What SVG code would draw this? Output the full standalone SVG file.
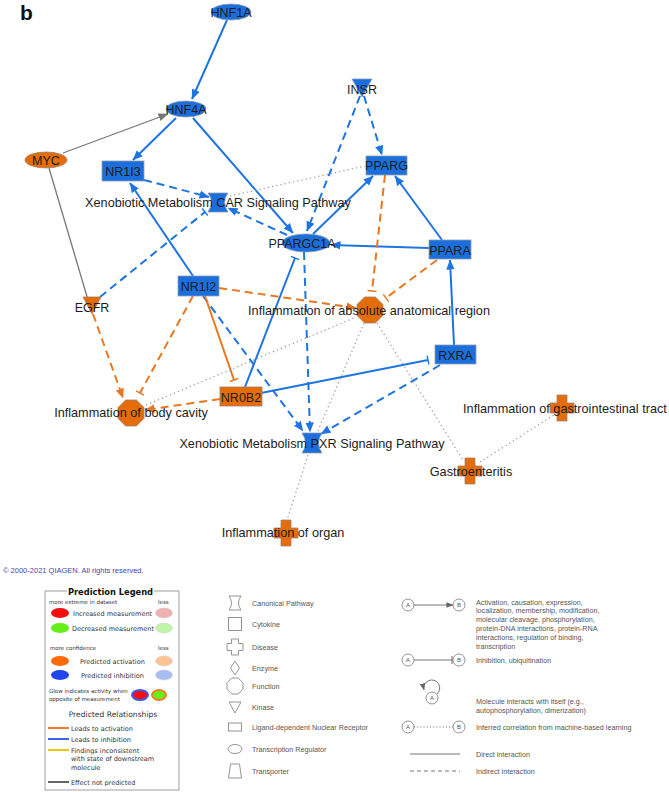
<svg xmlns="http://www.w3.org/2000/svg" width="669" height="792" viewBox="0 0 669 792">
<style>
text{font-family:"Liberation Sans",Arial,sans-serif}
.nb{fill:#1b6fdc;stroke:#8d9bb0;stroke-width:0.8}
.no{fill:#e46c0a;stroke:#a08070;stroke-width:0.8}
.nl{font-size:12.5px;fill:#1c1c1c;text-anchor:middle}
.bl{font-size:12.7px;fill:#1c1c1c;text-anchor:middle}
.eb{stroke:#1e74e0;stroke-width:2;fill:none}
.eo{stroke:#e8771e;stroke-width:2;fill:none}
.eg{stroke:#777;stroke-width:1.3;fill:none}
.d{stroke-dasharray:8,5}
.dot{stroke:#9a9a9a;stroke-width:1.2;stroke-dasharray:1.3,3;fill:none}
.pl{font-family:"DejaVu Sans",Verdana,sans-serif;font-size:6.5px;fill:#333}
.ps{font-family:"DejaVu Sans",Verdana,sans-serif;font-size:5.5px;fill:#333}
.lg{font-size:7.2px;fill:#555}
.li{fill:none;stroke:#888;stroke-width:0.9}
.lc{fill:#fff;stroke:#777;stroke-width:0.8}
.la{font-size:6px;fill:#555;text-anchor:middle}
</style>
<defs>
<marker id="ab" markerUnits="userSpaceOnUse" markerWidth="10" markerHeight="10" viewBox="0 0 10 10" refX="9.5" refY="5" orient="auto"><path d="M0,0.8 L10,5 L0,9.2 Z" fill="#1e74e0"/></marker>
<marker id="ao" markerUnits="userSpaceOnUse" markerWidth="10" markerHeight="10" viewBox="0 0 10 10" refX="9.5" refY="5" orient="auto"><path d="M0,0.8 L10,5 L0,9.2 Z" fill="#e8771e"/></marker>
<marker id="ag" markerUnits="userSpaceOnUse" markerWidth="10" markerHeight="10" viewBox="0 0 10 10" refX="9.5" refY="5" orient="auto"><path d="M0,1 L10,5 L0,9 Z" fill="#777"/></marker>
<marker id="al" markerUnits="userSpaceOnUse" markerWidth="7" markerHeight="7" viewBox="0 0 10 10" refX="9.5" refY="5" orient="auto"><path d="M0,1 L10,5 L0,9 Z" fill="#666"/></marker>
<marker id="ib" markerUnits="userSpaceOnUse" markerWidth="4" markerHeight="10" viewBox="0 0 4 10" refX="2" refY="5" orient="auto"><line x1="2" y1="0.5" x2="2" y2="9.5" stroke="#1e74e0" stroke-width="1.4"/></marker>
<marker id="io" markerUnits="userSpaceOnUse" markerWidth="4" markerHeight="10" viewBox="0 0 4 10" refX="2" refY="5" orient="auto"><line x1="2" y1="0.5" x2="2" y2="9.5" stroke="#e8771e" stroke-width="1.4"/></marker>
<marker id="il" markerUnits="userSpaceOnUse" markerWidth="4" markerHeight="10" viewBox="0 0 4 10" refX="2" refY="5" orient="auto"><line x1="2" y1="1" x2="2" y2="9" stroke="#666" stroke-width="1"/></marker>
<polygon id="oct" points="-5.4,-13 5.4,-13 13,-5.4 13,5.4 5.4,13 -5.4,13 -13,5.4 -13,-5.4"/>
<polygon id="cross" points="-5,-13 5,-13 5,-5 12,-5 12,5 5,5 5,13 -5,13 -5,5 -12,5 -12,-5 -5,-5"/>
</defs>
<rect width="669" height="792" fill="#fff"/>
<text x="20" y="20" style="font-size:21px;font-weight:bold;fill:#111">b</text>

<g id="connectors">
<line class="eb" x1="227" y1="20" x2="192" y2="99" marker-end="url(#ab)"/>
<line class="eg" x1="63" y1="153" x2="168" y2="114" marker-end="url(#ag)"/>
<line class="eg" x1="49" y1="168" x2="88" y2="300"/>
<line class="eb" x1="176" y1="118" x2="133" y2="160" marker-end="url(#ab)"/>
<line class="eb" x1="193" y1="118" x2="293" y2="233" marker-end="url(#ab)"/>
<line class="eb d" x1="144" y1="180" x2="209" y2="197" marker-end="url(#ab)"/>
<line class="eb d" x1="287" y1="235" x2="228" y2="208" marker-end="url(#ab)"/>
<line class="eb d" x1="100" y1="297" x2="205" y2="212" marker-end="url(#ib)"/>
<line class="eb" x1="193" y1="276" x2="130" y2="183" marker-end="url(#ab)"/>
<line class="eb d" x1="360" y1="96" x2="307" y2="231" marker-end="url(#ab)"/>
<line class="eb d" x1="364" y1="96" x2="382" y2="155" marker-end="url(#ab)"/>
<line class="eb" x1="313" y1="234" x2="373" y2="176" marker-end="url(#ab)"/>
<line class="eb" x1="442" y1="240" x2="395" y2="176" marker-end="url(#ab)"/>
<line class="eb" x1="429" y1="248" x2="331" y2="245" marker-end="url(#ab)"/>
<line class="eo d" x1="385" y1="175" x2="372" y2="291" marker-end="url(#io)"/>
<line class="eo d" x1="437" y1="260" x2="386" y2="298" marker-end="url(#io)"/>
<line class="eo d" x1="219" y1="288" x2="356" y2="308" marker-end="url(#ao)"/>
<line class="eb" x1="454" y1="345" x2="450" y2="260" marker-end="url(#ab)"/>
<line class="eb" x1="245" y1="387" x2="295" y2="258" marker-end="url(#ib)"/>
<line class="eb d" x1="304" y1="252" x2="310" y2="432" marker-end="url(#ab)"/>
<line class="eb d" x1="203" y1="296" x2="303" y2="431" marker-end="url(#ab)"/>
<line class="eb d" x1="440" y1="365" x2="321" y2="434" marker-end="url(#ab)"/>
<line class="eb" x1="261" y1="393" x2="428" y2="360" marker-end="url(#ib)"/>
<line class="eo" x1="205" y1="296" x2="234" y2="380" marker-end="url(#io)"/>
<line class="eo d" x1="193" y1="296" x2="140" y2="393" marker-end="url(#io)"/>
<line class="eo d" x1="93" y1="314" x2="123" y2="398" marker-end="url(#ao)"/>
<line class="eo d" x1="220" y1="399" x2="145" y2="410" marker-end="url(#ao)"/>
<line class="dot" x1="230" y1="196" x2="365" y2="166"/>
<line class="dot" x1="146" y1="405" x2="354" y2="318"/>
<line class="dot" x1="364" y1="323" x2="317" y2="433"/>
<line class="dot" x1="377" y1="323" x2="463" y2="460"/>
<line class="dot" x1="480" y1="462" x2="554" y2="415"/>
<line class="dot" x1="308" y1="455" x2="287" y2="520"/>
</g>

<g id="HNF1A"><ellipse class="nb" cx="231" cy="12" rx="20" ry="8"/><text class="nl" x="231" y="16.5">HNF1A</text></g>
<g id="HNF4A"><ellipse class="nb" cx="186" cy="109" rx="20" ry="8"/><text class="nl" x="186" y="113.5">HNF4A</text></g>
<g id="MYC"><ellipse class="no" cx="46" cy="160" rx="21" ry="8"/><text class="nl" x="46" y="164.5">MYC</text></g>
<g id="NR1I3"><rect class="nb" x="102" y="161" width="42" height="20"/><text class="nl" x="123" y="175.5">NR1I3</text></g>
<g id="INSR"><polygon class="nb" points="352,79 372,79 362,97"/><text class="nl" x="362" y="94">INSR</text></g>
<g id="PPARG"><rect class="nb" x="366" y="156" width="41" height="19"/><text class="nl" x="386.5" y="170">PPARG</text></g>
<g id="CAR"><path class="nb" d="M208,193 L228,193 Q221,202 228,212 L208,212 Q215,202 208,193 Z"/><text class="bl" x="218" y="207">Xenobiotic Metabolism CAR Signaling Pathway</text></g>
<g id="PPARGC1A"><ellipse class="nb" cx="306" cy="243" rx="24" ry="9"/><text class="nl" x="302" y="248">PPARGC1A</text></g>
<g id="PPARA"><rect class="nb" x="429" y="240" width="42" height="19"/><text class="nl" x="450" y="254.5">PPARA</text></g>
<g id="NR1I2"><rect class="nb" x="178" y="276" width="41" height="20"/><text class="nl" x="198.5" y="290.5">NR1I2</text></g>
<g id="EGFR"><polygon class="no" points="83,297 101,297 92,314"/><text class="nl" x="92" y="312">EGFR</text></g>
<g id="InflAbsolute"><use href="#oct" class="no" transform="translate(370,310)"/><text class="bl" x="369" y="315">Inflammation of absolute anatomical region</text></g>
<g id="RXRA"><rect class="nb" x="435" y="345" width="41" height="19"/><text class="nl" x="455.5" y="359.5">RXRA</text></g>
<g id="NR0B2"><rect class="no" x="220" y="387" width="42" height="19"/><text class="nl" x="241" y="401.5">NR0B2</text></g>
<g id="InflBodyCavity"><use href="#oct" class="no" transform="translate(131,413)"/><text class="bl" x="131" y="417">Inflammation of body cavity</text></g>
<g id="PXR"><path class="nb" d="M302,433 L322,433 Q315,443 322,453 L302,453 Q309,443 302,433 Z"/><text class="bl" x="312" y="448">Xenobiotic Metabolism PXR Signaling Pathway</text></g>
<g id="InflGI"><use href="#cross" class="no" transform="translate(562,408)"/><text class="bl" x="565" y="413">Inflammation of gastrointestinal tract</text></g>
<g id="Gastroenteritis"><use href="#cross" class="no" transform="translate(470,471)"/><text class="bl" x="471" y="476">Gastroenteritis</text></g>
<g id="InflOrgan"><use href="#cross" class="no" transform="translate(286,533)"/><text class="bl" x="283" y="537">Inflammation of organ</text></g>

<text x="3" y="573" style="font-size:7.5px;fill:#4646a8">© 2000-2021 QIAGEN. All rights reserved.</text>

<g id="prediction-legend">
<rect x="45" y="591" width="134" height="199" fill="#fff" stroke="#888" stroke-width="0.8"/>
<rect x="67" y="586" width="87" height="10" fill="#fff"/>
<text x="110.5" y="594.5" style="font-family:'DejaVu Sans',Verdana,sans-serif;font-size:8.3px;font-weight:bold;fill:#111;text-anchor:middle">Prediction Legend</text>
<text class="ps" x="49" y="604">more extreme in dataset</text>
<text class="ps" x="158" y="604">less</text>
<ellipse cx="60" cy="613" rx="9" ry="5" fill="#f01010"/>
<text class="pl" x="73" y="615.5">Increased measurement</text>
<ellipse cx="164" cy="613" rx="8.5" ry="5" fill="#f0b0b0" stroke="#ccc" stroke-width="0.5"/>
<ellipse cx="60" cy="628" rx="9" ry="5" fill="#66ee1a"/>
<text class="pl" x="72" y="630.5">Decreased measurement</text>
<ellipse cx="164" cy="628" rx="8.5" ry="5" fill="#c0f5a8" stroke="#ccc" stroke-width="0.5"/>
<text class="ps" x="50" y="650">more confidence</text>
<text class="ps" x="158" y="650">less</text>
<ellipse cx="60" cy="661" rx="9" ry="5" fill="#ff6a0a"/>
<text class="pl" x="80" y="663.5">Predicted activation</text>
<ellipse cx="164" cy="661" rx="8.5" ry="5" fill="#ffc494" stroke="#ccc" stroke-width="0.5"/>
<ellipse cx="60" cy="675" rx="9" ry="5" fill="#2244ee"/>
<text class="pl" x="81" y="677.5">Predicted inhibition</text>
<ellipse cx="164" cy="675" rx="8.5" ry="5" fill="#a8bef2" stroke="#ccc" stroke-width="0.5"/>
<text class="ps" x="49" y="693">Glow indicates activity when</text>
<text class="ps" x="49" y="700.5">opposite of measurement</text>
<ellipse cx="140" cy="695" rx="8" ry="5" fill="#f01010" stroke="#3a5cf0" stroke-width="2"/>
<ellipse cx="159" cy="695" rx="7" ry="5" fill="#66ee1a" stroke="#ff7a20" stroke-width="2"/>
<text x="113" y="717" style="font-family:'DejaVu Sans',Verdana,sans-serif;font-size:7.6px;fill:#333;text-anchor:middle">Predicted Relationships</text>
<line x1="48" y1="728" x2="69" y2="728" stroke="#f07020" stroke-width="1.8"/>
<text class="pl" x="71" y="730.5">Leads to activation</text>
<line x1="48" y1="739" x2="69" y2="739" stroke="#2a4ff0" stroke-width="1.8"/>
<text class="pl" x="71" y="741.5">Leads to inhibition</text>
<line x1="48" y1="750" x2="69" y2="750" stroke="#e8c000" stroke-width="1.8"/>
<text class="pl" x="71" y="752.5">Findings inconsistent</text>
<text class="pl" x="71" y="761">with state of downstream</text>
<text class="pl" x="71" y="769.5">molecule</text>
<line x1="48" y1="782" x2="69" y2="782" stroke="#555" stroke-width="1.8"/>
<text class="pl" x="71" y="784.5">Effect not predicted</text>
</g>

<g id="shape-legend">
<path class="li" d="M229,596 L241,596 Q236,603 241,610 L229,610 Q234,603 229,596 Z"/>
<text class="lg" x="252" y="605.5">Canonical Pathway</text>
<rect class="li" x="228.5" y="617.5" width="13" height="13"/>
<text class="lg" x="252" y="626.5">Cytokine</text>
<polygon class="li" points="231.5,639 238.5,639 238.5,643.5 243,643.5 243,650.5 238.5,650.5 238.5,655 231.5,655 231.5,650.5 227,650.5 227,643.5 231.5,643.5"/>
<text class="lg" x="252" y="649.5">Disease</text>
<polygon class="li" points="235,661 239.5,668 235,675 230.5,668"/>
<text class="lg" x="252" y="670.5">Enzyme</text>
<polygon class="li" points="231.8,678 238.2,678 243,682.8 243,689.2 238.2,694 231.8,694 227,689.2 227,682.8"/>
<text class="lg" x="252" y="688.5">Function</text>
<polygon class="li" points="229,702 241,702 235,713"/>
<text class="lg" x="252" y="709.5">Kinase</text>
<rect class="li" x="228.5" y="723" width="13" height="8"/>
<text class="lg" x="252" y="729.5">Ligand-dependent Nuclear Receptor</text>
<ellipse class="li" cx="235" cy="749" rx="7" ry="4.5"/>
<text class="lg" x="252" y="751.5">Transcription Regulator</text>
<polygon class="li" points="230.5,764 239.5,764 241.5,778 228.5,778"/>
<text class="lg" x="252" y="773.5">Transporter</text>
</g>

<g id="relationship-legend">
<line x1="414" y1="605" x2="453" y2="605" stroke="#666" stroke-width="0.9" marker-end="url(#al)"/>
<circle class="lc" cx="408" cy="605" r="6"/><text class="la" x="408" y="607.2">A</text>
<circle class="lc" cx="459" cy="605" r="6"/><text class="la" x="459" y="607.2">B</text>
<text class="lg" x="476" y="604.5">Activation, causation, expression,</text>
<text class="lg" x="476" y="613.3">localization, membership, modification,</text>
<text class="lg" x="476" y="622.1">molecular cleavage, phosphorylation,</text>
<text class="lg" x="476" y="630.9">protein-DNA interactions, protein-RNA</text>
<text class="lg" x="476" y="639.7">interactions, regulation of binding,</text>
<text class="lg" x="476" y="648.5">transcription</text>
<line x1="414" y1="660" x2="452" y2="660" stroke="#666" stroke-width="0.9" marker-end="url(#il)"/>
<circle class="lc" cx="408" cy="660" r="6"/><text class="la" x="408" y="662.2">A</text>
<circle class="lc" cx="459" cy="660" r="6"/><text class="la" x="459" y="662.2">B</text>
<text class="lg" x="476" y="662.5">Inhibition, ubiquitination</text>
<path d="M437,694 A8,8 0 1 0 424,690" fill="none" stroke="#666" stroke-width="0.9" marker-end="url(#al)"/>
<circle class="lc" cx="432" cy="698" r="6"/><text class="la" x="432" y="700.2">A</text>
<text class="lg" x="476" y="703.5">Molecule interacts with itself (e.g.,</text>
<text class="lg" x="476" y="712.5">autophosphorylation, dimerization)</text>
<line x1="414" y1="727" x2="453" y2="727" stroke="#666" stroke-width="1" stroke-dasharray="1,2.2"/>
<circle class="lc" cx="408" cy="727" r="6"/><text class="la" x="408" y="729.2">A</text>
<circle class="lc" cx="459" cy="727" r="6"/><text class="la" x="459" y="729.2">B</text>
<text class="lg" x="476" y="729.5">Inferred correlation from machine-based learning</text>
<line x1="410" y1="754" x2="460" y2="754" stroke="#666" stroke-width="0.9"/>
<text class="lg" x="476" y="756.5">Direct interaction</text>
<line x1="410" y1="771" x2="460" y2="771" stroke="#666" stroke-width="0.9" stroke-dasharray="4,3"/>
<text class="lg" x="476" y="773.5">Indirect interaction</text>
</g>
</svg>
